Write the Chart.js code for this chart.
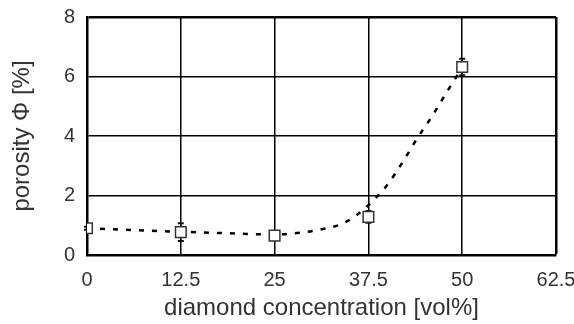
<!DOCTYPE html>
<html lang="en">
<head>
    <meta charset="UTF-8">
    <title>Porosity vs diamond concentration</title>
    <style>
        body { margin: 0; background: #fff; }
        #wrap { width: 574px; height: 324px; }
    </style>
    <script src="https://cdn.jsdelivr.net/npm/chart.js"></script>
</head>
<body>
    <div id="wrap"><canvas id="chart" width="574" height="324"></canvas></div>
    <script>
        // measured points
        const conc = [0, 12.5, 25, 37.5, 50];
        const porosity = [0.9, 0.77, 0.65, 1.28, 6.32];
        const errors = [0.05, 0.3, 0.14, 0.2, 0.28];

        // dashed trend curve
        const fitX = [0, 5, 10, 15, 20, 25, 28, 31, 34, 36, 38, 40, 42, 44, 46, 48, 50];
        const fitY = [0.9, 0.85, 0.8, 0.76, 0.72, 0.69, 0.74, 0.85, 1.05, 1.35, 1.8, 2.35, 3.1, 3.92, 4.67, 5.5, 6.3];

        const xTicks = [0, 12.5, 25, 37.5, 50, 62.5];
        const yTicks = [0, 2, 4, 6, 8];

        const FONT = '"Liberation Sans", Arial, Helvetica, sans-serif';
        const TXT = '#333';

        // error bars behind the square markers
        const errorBars = {
            id: 'errorBars',
            beforeDatasetsDraw(chart) {
                const { ctx, scales: { x, y } } = chart;
                ctx.save();
                ctx.strokeStyle = '#111';
                for (let i = 0; i < conc.length; i++) {
                    const px = x.getPixelForValue(conc[i]);
                    const top = y.getPixelForValue(porosity[i] + errors[i]);
                    const bot = y.getPixelForValue(porosity[i] - errors[i]);
                    ctx.lineWidth = 1.5;
                    ctx.beginPath();
                    ctx.moveTo(px, top);
                    ctx.lineTo(px, bot);
                    ctx.stroke();
                    ctx.lineWidth = 2;
                    ctx.beginPath();
                    ctx.moveTo(px - 3, top); ctx.lineTo(px + 3, top);
                    ctx.moveTo(px - 3, bot); ctx.lineTo(px + 3, bot);
                    ctx.stroke();
                }
                ctx.restore();
            }
        };

        const ctx = document.getElementById('chart').getContext('2d');
        new Chart(ctx, {
            type: 'scatter',
            data: {
                datasets: [
                    {
                        label: 'fit',
                        data: fitX.map((v, i) => ({ x: v, y: fitY[i] })),
                        showLine: true,
                        cubicInterpolationMode: 'monotone',
                        borderColor: '#000',
                        borderWidth: 2.5,
                        borderDash: [5, 8],
                        pointRadius: 0,
                        order: 2
                    },
                    {
                        label: 'porosity',
                        data: conc.map((v, i) => ({ x: v, y: porosity[i] })),
                        pointStyle: 'rect',
                        pointRadius: 7.5,
                        pointBackgroundColor: '#fff',
                        pointBorderColor: '#333',
                        pointBorderWidth: 1.5,
                        order: 1
                    }
                ]
            },
            options: {
                responsive: false,
                animation: false,
                layout: { padding: { top: 17, right: 18, left: 0, bottom: 0 } },
                plugins: {
                    legend: { display: false },
                    tooltip: { enabled: false }
                },
                scales: {
                    x: {
                        type: 'linear',
                        min: 0,
                        max: 62.5,
                        afterBuildTicks: s => { s.ticks = xTicks.map(v => ({ value: v })); },
                        afterFit: s => { s.height = 69; s.paddingLeft = 0; s.paddingRight = 0; },
                        grid: {
                            color: '#000',
                            lineWidth: c => (c.tick && c.tick.value === 62.5 ? 2.5 : 1.5),
                            drawTicks: false
                        },
                        border: { color: '#000', width: 2.5 },
                        ticks: {
                            padding: 13,
                            color: TXT,
                            font: { family: FONT, size: 20 },
                            callback: v => String(v)
                        },
                        title: {
                            display: true,
                            text: 'diamond concentration [vol%]',
                            color: TXT,
                            font: { family: FONT, size: 24 },
                            padding: { top: 0, bottom: 1 }
                        }
                    },
                    y: {
                        min: 0,
                        max: 8,
                        afterBuildTicks: s => { s.ticks = yTicks.map(v => ({ value: v })); },
                        afterFit: s => { s.width = 87; s.paddingTop = 0; s.paddingBottom = 0; },
                        grid: {
                            color: '#000',
                            lineWidth: c => (c.tick && c.tick.value === 8 ? 2.5 : 1.5),
                            drawTicks: false
                        },
                        border: { color: '#000', width: 2.5 },
                        ticks: {
                            padding: 12,
                            color: TXT,
                            font: { family: FONT, size: 20 }
                        },
                        title: {
                            display: true,
                            text: 'porosity Φ [%]',
                            color: TXT,
                            font: { family: FONT, size: 24 },
                            padding: { top: 8, bottom: 0 }
                        }
                    }
                }
            },
            plugins: [errorBars]
        });
    </script>
</body>
</html>
